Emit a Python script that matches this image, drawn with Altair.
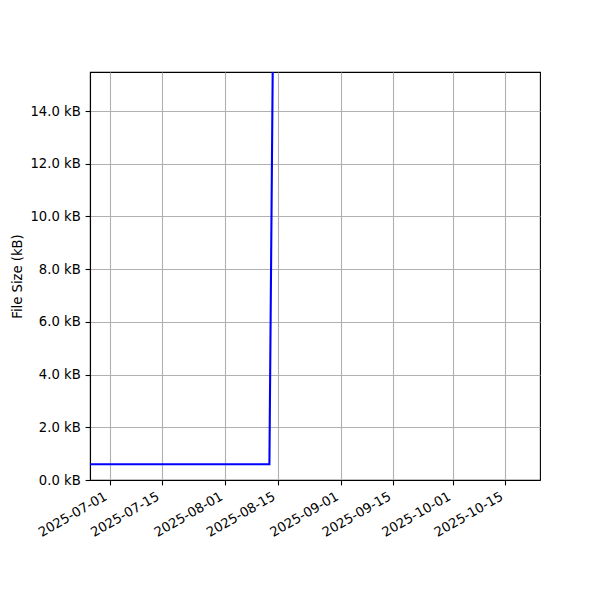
import altair as alt
import pandas as pd

# ---- data ----
dates = ["2025-06-25T18:00", "2025-08-12T19:00", "2025-08-14T00:00"]
sizes_kb = [0.6, 0.6, 21.0]

tick_dates = ["2025-07-01", "2025-07-15", "2025-08-01", "2025-08-15",
              "2025-09-01", "2025-09-15", "2025-10-01", "2025-10-15"]
y_ticks = [0, 2, 4, 6, 8, 10, 12, 14]

x_domain = ["2025-06-25T18:00", "2025-10-24T06:00"]
y_domain = [0, 15.48]


def to_dt(s):
    t = pd.Timestamp(s)
    return alt.DateTime(year=t.year, month=t.month, date=t.day,
                        hours=t.hour, minutes=t.minute)


df = pd.DataFrame({"date": dates, "size": sizes_kb})

FONT = "'DejaVu Sans', DejaVuSans, sans-serif"
FS = 13.2

chart = alt.Chart(df).mark_line(color="#0000ff", strokeWidth=2.1, clip=True).encode(
    x=alt.X("date:T",
            scale=alt.Scale(domain=[to_dt(d) for d in x_domain]),
            axis=alt.Axis(values=[to_dt(d) for d in tick_dates],
                          format="%Y-%m-%d", title=None,
                          labelAngle=-30, labelAlign="right", labelBaseline="top",
                          labelOffset=-7, labelFlush=False, labelOverlap=False,
                          grid=True)),
    y=alt.Y("size:Q",
            scale=alt.Scale(domain=y_domain, nice=False, zero=False),
            axis=alt.Axis(values=y_ticks,
                          labelExpr="format(datum.value, '.1f') + ' kB'",
                          title="File Size (kB)",
                          titleX=-73, titleY=204, titleBaseline="middle",
                          titleAngle=270, titleAlign="center",
                          labelFlush=False, labelOverlap=False,
                          grid=True)),
).properties(
    width=450, height=408,
    autosize=alt.AutoSizeParams(type="none"),
    padding={"left": 82, "top": 64, "right": 52, "bottom": 112},
).configure(
    background="white"
).configure_view(
    stroke="black", strokeWidth=1.1
).configure_axis(
    domainColor="black", domainWidth=1.1,
    tickColor="black", tickWidth=1.1, tickSize=4.9,
    gridColor="#b0b0b0", gridWidth=1.1,
    labelFont=FONT, labelFontSize=FS, labelColor="black", labelPadding=4.9,
    titleFont=FONT, titleFontSize=FS, titleFontWeight="normal", titleColor="black",
)

chart.save("out.html", embed_options={"renderer": "svg", "actions": False})
